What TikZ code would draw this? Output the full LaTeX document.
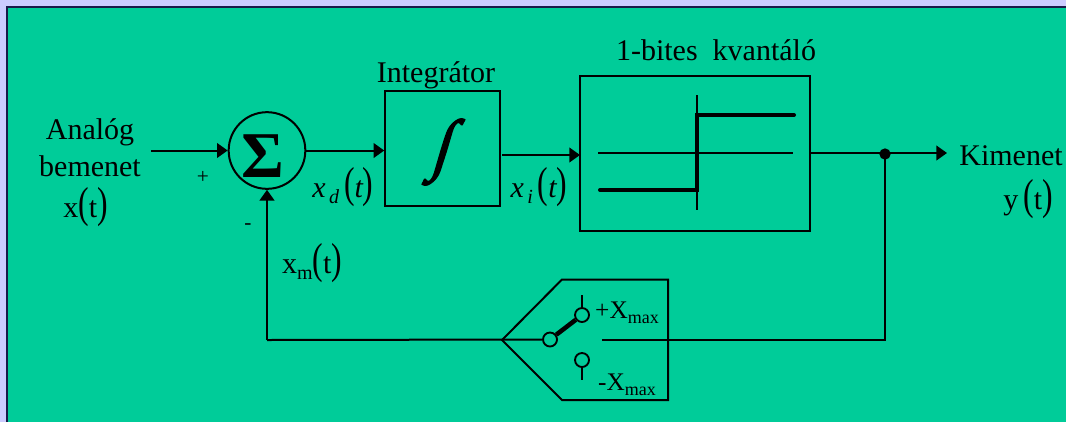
\documentclass[tikz,border=0pt]{standalone}
\usepackage{fontspec}
\setmainfont{Liberation Serif}
\newfontfamily\heavyserif[FakeBold=2.5]{Liberation Serif Bold}
\usetikzlibrary{arrows.meta}
\definecolor{bgpanel}{HTML}{00CC99}
\definecolor{bglav}{HTML}{CCCCFF}
\definecolor{framec}{HTML}{1A1A4A}
\tikzset{
  x=0.75pt,y=-0.75pt,
  wire/.style={line width=1.5pt,line cap=butt},
  arr/.style={wire,-{Triangle[length=8pt,width=11pt]}},
  lab/.style={font=\fontsize{22.5}{24}\selectfont,inner sep=0pt,anchor=base},
  smalllab/.style={font=\fontsize{16}{18}\selectfont,inner sep=0pt,anchor=base},
  swlab/.style={font=\fontsize{19}{20}\selectfont,inner sep=0pt,anchor=base},
  contact/.style={draw,line width=1.4pt,circle,minimum size=10.5pt,inner sep=0pt,fill=bgpanel},
}
\newcommand{\bigp}[1]{\scalebox{0.95}[1.3]{\raisebox{-0.02em}{\fontsize{25}{25}\selectfont\upshape #1}}}
\begin{document}
\begin{tikzpicture}
\useasboundingbox (0,0) rectangle (1066,422);
\fill[bglav] (0,0) rectangle (1066,422);
\fill[bgpanel] (7,7) rectangle (1066,422);
\draw[framec,line width=1.5pt] (7,422) -- (7,7) -- (1066,7);

% blocks
\node[draw,line width=1.5pt,circle,minimum size=57.5pt,inner sep=0pt] (sum) at (267,150.5) {};
\node[inner sep=0pt,anchor=base] (sigma) at (262.5,177) {\fontsize{49}{49}\selectfont\textbf{Σ}};
\node[draw,line width=1.4pt,minimum width=86pt,minimum height=86pt,inner sep=0pt] (integ) at (442.5,148.5) {};
\node[inner sep=0pt,xslant=0.3] (intsign) at (443.5,152) {\scalebox{1}[1.1]{\fontsize{46}{46}\heavyserif ∫}};
\node[draw,line width=1.4pt,minimum width=172.5pt,minimum height=116pt,inner sep=0pt] (quant) at (695,153.5) {};

% staircase in the quantizer
\coordinate (qa) at (598,153); \coordinate (qb) at (793,153);
\coordinate (qc) at (697,95);  \coordinate (qd) at (697,210);
\coordinate (qe) at (600,190); \coordinate (qf) at (697,190);
\coordinate (qg) at (697,115); \coordinate (qh) at (794,115);
\draw[wire] (qa) -- (qb);
\draw[wire] (qc) -- (qd);
\draw[line width=3pt,line cap=round,line join=miter] (qe) -- (qf) -- (qg) -- (qh);

% forward path
\coordinate (in) at (151,150.5);
\coordinate (intout) at (502,155);
\coordinate (outend) at (947,153);
\coordinate (qout) at (810,153);
\coordinate (qin) at (580,155);
\node[circle,fill=black,minimum size=8.5pt,inner sep=0pt] (dot) at (885,154) {};
\draw[arr] (in) -- (sum.west);
\draw[arr] (sum.east) -- (integ.west |- sum.east);
\draw[arr] (intout) -- (qin);
\draw[wire] (qout) -- (dot.center |- qout);
\draw[arr] (dot.center |- qout) -- (outend);

% switch block
\coordinate (tip) at (502,340);
\draw[line width=1.5pt,line join=miter] (tip) -- (562,279.5) -- (668,279.5) -- (668,400) -- (562,400) -- cycle;
\node[contact] (c0) at (550,339.5) {};
\node[contact] (c1) at (582,315) {};
\node[contact] (c2) at (582,360) {};
\coordinate (c1top) at (582,295);
\coordinate (c2bot) at (582,380);
\coordinate (fbr) at (885,340);
\coordinate (fbm) at (602,340);
\coordinate (fbl) at (267,340);
\draw[wire] (c1.north) -- (c1top);
\draw[wire] (c2.south) -- (c2bot);
\draw[line width=3.4pt] (c0) -- (c1);
\draw[wire] (dot.center) -- (fbr) -- (fbm);
\draw[wire] (c0.west) -- (fbl);
\draw[arr] (fbl) -- (sum.south);

% labels
\node[lab] (l1) at (90,139) {Analóg};
\node[lab] (l2) at (90,176) {bemenet};
\node[lab] (l3) at (85.5,217) {x\bigp{(}t\bigp{)}};
\node[smalllab] (lp) at (203,183) {+};
\node[smalllab] (lm) at (248,229) {-};
\node[lab] (lxd) at (343,197) {\itshape x\raisebox{-0.22em}{\fontsize{15}{15}\selectfont\,d}\,\bigp{(}t\bigp{)}};
\node[lab] (lxi) at (539,197) {\itshape x\raisebox{-0.22em}{\fontsize{15}{15}\selectfont\,i}\,\bigp{(}t\bigp{)}};
\node[lab] (lxm) at (312,273) {x\raisebox{-0.22em}{\fontsize{15}{15}\selectfont m}\bigp{(}t\bigp{)}};
\node[lab] (lint) at (436,82) {Integrátor};
\node[lab] (lq) at (716,60) {1-bites\ \ kvantáló};
\node[lab] (lk) at (1011,165) {Kimenet};
\node[lab] (ly) at (1028,209) {y\,\bigp{(}t\bigp{)}};
\node[swlab] (lpx) at (627,318) {+X\raisebox{-0.2em}{\fontsize{13.5}{14}\selectfont max}};
\node[swlab] (lmx) at (627,390) {-X\raisebox{-0.2em}{\fontsize{13.5}{14}\selectfont max}};
\end{tikzpicture}
\end{document}
